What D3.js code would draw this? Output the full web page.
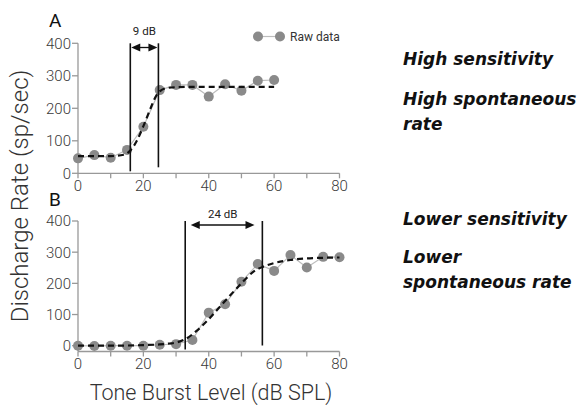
<!DOCTYPE html>
<html><head><meta charset="utf-8">
<script src="https://cdn.jsdelivr.net/npm/d3@7"></script>
<style>body{margin:0;background:#fff}svg{display:block}</style>
</head><body>
<svg id="c" width="580" height="405"></svg>
<script>
// Panel A raw data
const rawA_x = [0,5,10,15,20,25,30,35,40,45,50,55,60];
const rawA_y = [46,56,48,72,143,256,272,272,236,274,254,285,287];
// Panel A fit (dashed)
const fitA_x = [0,5,10,14,16,18,20,22,24,25,27,30,35,40,50,60];
const fitA_y = [53,53,53,57,70,100,145,195,240,252,262,265,266,266,266,266];
// Panel B raw data
const rawB_x = [0,5,10,15,20,25,30,35,40,45,50,55,60,65,70,75,80];
const rawB_y = [0,-1,0,0,0,3,5,18,106,133,205,262,240,291,251,285,284];
// Panel B fit (dashed)
const fitB_x = [0,10,20,25,28,30,33,36,40,43,46,50,54,57,60,65,70,75,80];
const fitB_y = [0,0,2,4,7,10,22,45,85,120,155,200,240,255,265,275,280,282,283];
// markers
const linesA = [16, 24.6];
const linesB = [32.8, 56.4];
const labelA = "9 dB", labelB = "24 dB";
const xTicks = [0,20,40,60,80];
const xMinor = [10,30,50,70];
const yTicks = [0,100,200,300,400];
const rightTexts = [
  {t:"High sensitivity", y:65},
  {t:"High spontaneous", y:105},
  {t:"rate", y:130},
  {t:"Lower sensitivity", y:225},
  {t:"Lower", y:263},
  {t:"spontaneous rate", y:288}
];

const svg = d3.select("#c");
const x = d3.scaleLinear().domain([0,80]).range([78,339.5]);
const axisColor = "#999", tickColor = "#3a3a3a";
const font = "Roboto, 'Liberation Sans', sans-serif";

function panel(yTop, yZero, xAxisY, raw_x, raw_y, fit_x, fit_y, vlines, lab, arrowY, arrowX, labY, letter, letterY){
  const y = d3.scaleLinear().domain([0,400]).range([yZero, yTop]);
  const g = svg.append("g");
  // y axis
  g.append("line").attr("x1",78).attr("x2",78).attr("y1",yTop).attr("y2",xAxisY).attr("stroke",axisColor).attr("stroke-width",1.3);
  yTicks.forEach(v=>{
    g.append("line").attr("x1",72).attr("x2",78).attr("y1",y(v)).attr("y2",y(v)).attr("stroke",axisColor).attr("stroke-width",1.3);
    g.append("text").attr("x",71).attr("y",y(v)).attr("dy","0.36em").attr("text-anchor","end")
      .attr("font-family",font).attr("font-weight",300).attr("font-size",15).attr("fill",tickColor).text(v);
  });
  // x axis
  g.append("line").attr("x1",78).attr("x2",339.5).attr("y1",xAxisY).attr("y2",xAxisY).attr("stroke",axisColor).attr("stroke-width",1.3);
  xTicks.concat(xMinor).forEach(v=>{
    g.append("line").attr("x1",x(v)).attr("x2",x(v)).attr("y1",xAxisY).attr("y2",xAxisY+5).attr("stroke",axisColor).attr("stroke-width",1.3);
  });
  xTicks.forEach(v=>{
    g.append("text").attr("x",x(v)).attr("y",xAxisY+12).attr("dy","0.36em").attr("text-anchor","middle")
      .attr("font-family",font).attr("font-weight",300).attr("font-size",15).attr("fill",tickColor).text(v);
  });
  // raw line
  const raw = raw_x.map((d,i)=>[d,raw_y[i]]);
  g.append("path").datum(raw).attr("d",d3.line().x(d=>x(d[0])).y(d=>y(d[1])))
    .attr("fill","none").attr("stroke","#bdbdbd").attr("stroke-width",1.2);
  g.selectAll("circle.r").data(raw).enter().append("circle").attr("cx",d=>x(d[0])).attr("cy",d=>y(d[1])).attr("r",5).attr("fill","#8a8a8a");
  // fit
  const fit = fit_x.map((d,i)=>[d,fit_y[i]]);
  g.append("path").datum(fit).attr("d",d3.line().curve(d3.curveMonotoneX).x(d=>x(d[0])).y(d=>y(d[1])))
    .attr("fill","none").attr("stroke","#111").attr("stroke-width",2.2).attr("stroke-dasharray","6,4");
  // vertical lines
  vlines.forEach((v,i)=>{
    g.append("line").attr("x1",x(v)).attr("x2",x(v)).attr("y1",yTop).attr("y2",i===0?xAxisY-2:xAxisY-6).attr("stroke","#111").attr("stroke-width",1.6);
  });
  // arrow
  const ax1 = x(arrowX[0]), ax2 = x(arrowX[1]);
  g.append("line").attr("x1",ax1+6).attr("x2",ax2-6).attr("y1",arrowY).attr("y2",arrowY).attr("stroke","#111").attr("stroke-width",1.3);
  g.append("path").attr("d",`M${ax1},${arrowY} L${ax1+9},${arrowY-4} L${ax1+9},${arrowY+4}Z`).attr("fill","#111");
  g.append("path").attr("d",`M${ax2},${arrowY} L${ax2-9},${arrowY-4} L${ax2-9},${arrowY+4}Z`).attr("fill","#111");
  g.append("text").attr("x",(ax1+ax2)/2).attr("y",labY).attr("text-anchor","middle")
    .attr("font-family",font).attr("font-size",11.5).attr("fill","#222").text(lab);
  g.append("text").attr("x",49).attr("y",letterY).attr("font-family",font).attr("font-size",19).attr("fill","#111").text(letter);
}

panel(43.3, 173.3, 173.3, rawA_x, rawA_y, fitA_x, fitA_y, linesA, labelA, 47.5, [linesA[0]+0.3, linesA[1]-0.3], 35, "A", 27);
panel(221, 345.7, 351.5, rawB_x, rawB_y, fitB_x, fitB_y, linesB, labelB, 225, [34.5, 54], 218, "B", 206);

// legend
svg.append("line").attr("x1",258).attr("x2",280).attr("y1",36.5).attr("y2",36.5).attr("stroke","#bdbdbd").attr("stroke-width",1.2);
svg.append("circle").attr("cx",258).attr("cy",36.5).attr("r",5).attr("fill","#8a8a8a");
svg.append("circle").attr("cx",280).attr("cy",36.5).attr("r",5).attr("fill","#8a8a8a");
svg.append("text").attr("x",290).attr("y",36.5).attr("dy","0.36em").attr("font-family",font).attr("font-size",12).attr("fill","#333").text("Raw data");

// axis titles
svg.append("text").attr("transform","translate(28,196) rotate(-90)").attr("text-anchor","middle")
  .attr("font-family",font).attr("font-weight",300).attr("font-size",24).attr("fill","#333").text("Discharge Rate (sp/sec)");
svg.append("text").attr("x",211).attr("y",400).attr("text-anchor","middle")
  .attr("font-family",font).attr("font-weight",300).attr("font-size",21.5).attr("fill","#333").text("Tone Burst Level (dB SPL)");

// right texts
rightTexts.forEach(d=>{
  svg.append("text").attr("x",403).attr("y",d.y).attr("font-family","'DejaVu Sans', sans-serif")
    .attr("font-style","italic").attr("font-weight","bold").attr("font-size",17).attr("fill","#111").text(d.t);
});
</script>
</body></html>
